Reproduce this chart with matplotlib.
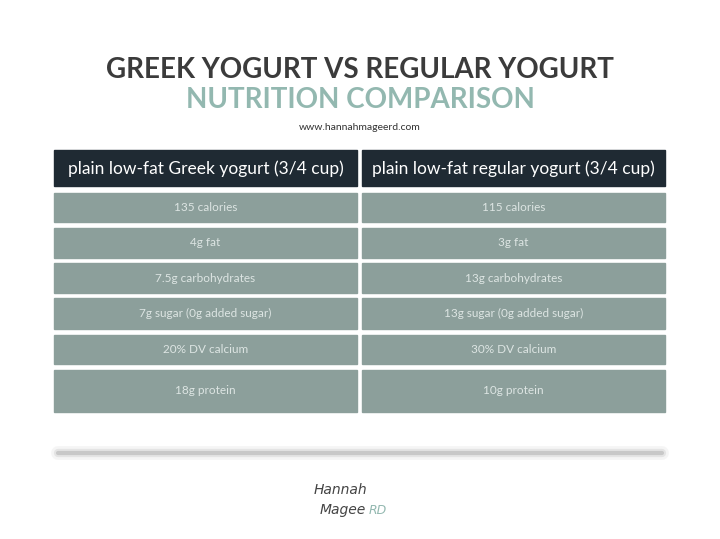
import matplotlib.pyplot as plt
from matplotlib.patches import Rectangle

headers = ['plain low-fat Greek yogurt (3/4 cup)', 'plain low-fat regular yogurt (3/4 cup)']
greek = ['135 calories', '4g fat', '7.5g carbohydrates', '7g sugar (0g added sugar)', '20% DV calcium', '18g protein']
regular = ['115 calories', '3g fat', '13g carbohydrates', '13g sugar (0g added sugar)', '30% DV calcium', '10g protein']
row_tops = [193, 228, 263, 298, 335, 370]
row_bottoms = [222, 258, 293, 329, 364, 412]

fig = plt.figure(figsize=(7.2, 5.39), dpi=100)
ax = fig.add_axes([0, 0, 1, 1])
ax.set_xlim(0, 720)
ax.set_ylim(539, 0)
ax.axis('off')

ax.text(360, 70, 'GREEK YOGURT VS REGULAR YOGURT', ha='center', va='center',
        fontsize=20, fontweight='bold', color='#3b3b3b', family='Lato')
ax.text(360, 100, 'NUTRITION COMPARISON', ha='center', va='center',
        fontsize=20, fontweight='bold', color='#93b8b0', family='Lato')
ax.text(360, 127, 'www.hannahmageerd.com', ha='center', va='center',
        fontsize=7.5, color='#333333', family='Lato')

cols = [(54, 357), (362, 665)]
for (x0, x1), h in zip(cols, headers):
    ax.add_patch(Rectangle((x0, 150), x1 - x0, 36, color='#1f2a33'))
    ax.text((x0 + x1) / 2, 169, h, ha='center', va='center', fontsize=12.5,
            color='white', family='Lato')

for col, vals in zip(cols, [greek, regular]):
    x0, x1 = col
    for t, b, v in zip(row_tops, row_bottoms, vals):
        ax.add_patch(Rectangle((x0, t), x1 - x0, b - t, color='#8c9f9b'))
        ax.text((x0 + x1) / 2, (t + b) / 2, v, ha='center', va='center',
                fontsize=8.5, color='#dde5e3', family='Lato')

# soft shadow line
for lw, a in [(10, 0.08), (6, 0.15), (3, 0.3)]:
    ax.plot([58, 662], [453, 453], color='#888888', lw=lw, alpha=a, solid_capstyle='round')

ax.text(340, 490, 'Hannah', ha='center', va='center', fontsize=10, style='italic', color='#444444')
ax.text(343, 510, 'Magee', ha='center', va='center', fontsize=10, style='italic', color='#444444')
ax.text(378, 510, 'RD', ha='center', va='center', fontsize=9, style='italic', color='#93b8b0')

fig.savefig('out.png', dpi=100, facecolor='white')
